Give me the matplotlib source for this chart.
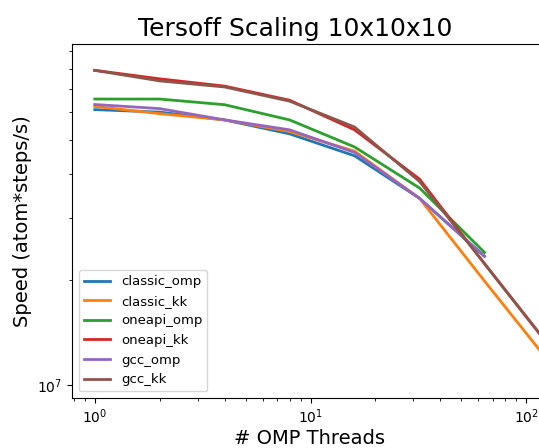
import matplotlib.pyplot as plt

threads = [1, 2, 4, 8, 16, 32, 64, 128]

classic_omp = [6.11e7, 6.01e7, 5.71e7, 5.21e7, 4.51e7, 3.41e7, 2.33e7]
classic_kk = [6.24e7, 5.95e7, 5.71e7, 5.29e7, 4.65e7, 3.41e7, 1.98e7, 1.16e7]
oneapi_omp = [6.55e7, 6.55e7, 6.31e7, 5.71e7, 4.78e7, 3.65e7, 2.39e7]
oneapi_kk = [7.91e7, 7.48e7, 7.13e7, 6.50e7, 5.35e7, 3.87e7, 2.22e7, 1.29e7]
gcc_omp = [6.32e7, 6.15e7, 5.71e7, 5.35e7, 4.61e7, 3.41e7, 2.33e7]
gcc_kk = [7.91e7, 7.38e7, 7.09e7, 6.46e7, 5.45e7, 3.81e7, 2.22e7, 1.29e7]

series = [
    ("classic_omp", classic_omp),
    ("classic_kk", classic_kk),
    ("oneapi_omp", oneapi_omp),
    ("oneapi_kk", oneapi_kk),
    ("gcc_omp", gcc_omp),
    ("gcc_kk", gcc_kk),
]

fig = plt.figure(figsize=(5.39, 4.48), dpi=100)
ax = fig.add_axes([0.1336, 0.1116, 0.928, 0.790])

for name, vals in series:
    ax.plot(threads[:len(vals)], vals, label=name, linewidth=2)

ax.set_xscale("log")
ax.set_yscale("log")
ax.set_ylim(0.918e7, 9.4e7)

ax.set_title("Tersoff Scaling 10x10x10", fontsize=18, x=0.446)
ax.set_xlabel("# OMP Threads", fontsize=14, x=0.474, labelpad=2)
ax.set_ylabel("Speed (atom*steps/s)", fontsize=14)
ax.legend(loc="lower left", fontsize=9.5)

fig.savefig("out.png", dpi=100)
